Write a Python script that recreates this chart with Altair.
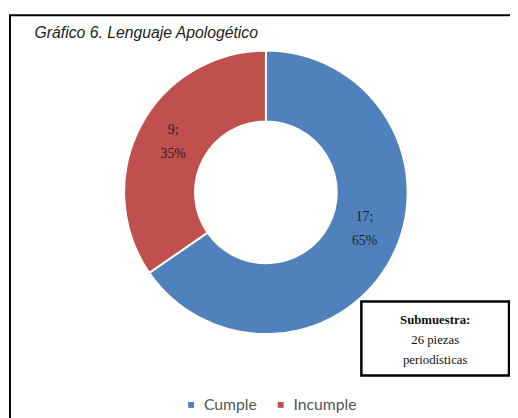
import altair as alt
import pandas as pd

categories = ["Cumple", "Incumple"]
counts = [17, 9]
percents = ["65%", "35%"]
colors = ["#4F81BD", "#C0504D"]
title_text = "Gráfico 6. Lenguaje Apologético"
box_lines = ["Submuestra:", "26 piezas", "periodísticas"]

df = pd.DataFrame({
    "cat": categories,
    "n": counts,
    "pct": percents,
})
df["label"] = [[f"{n};", p] for n, p in zip(counts, percents)]
tot = sum(counts)
cum = 0
starts = []
for c in counts:
    starts.append(cum)
    cum += c
df["start"] = starts
df["end"] = [s + c for s, c in zip(starts, counts)]

W, H = 510, 410
CX, CY = 262, 184
theta_scale = alt.Scale(domain=[0, tot], range=[0, 6.283185307])

color_scale = alt.Scale(domain=categories, range=colors)

frame = alt.Chart(pd.DataFrame({"a": [0]})).mark_rect(
    fill="white", stroke="black", strokeWidth=2
).encode(x=alt.value(2), x2=alt.value(530), y=alt.value(4), y2=alt.value(430))

arcs = alt.Chart(df).mark_arc(
    outerRadius=144, innerRadius=72, stroke="white", strokeWidth=2
).encode(
    theta=alt.Theta("start:Q", scale=theta_scale),
    theta2="end:Q",
    color=alt.Color("cat:N", scale=color_scale, sort=categories,
                    legend=alt.Legend(title=None, orient="none", direction="horizontal",
                                      legendX=178, legendY=392, symbolType="square",
                                      symbolSize=36, labelFont="Lato",
                                      labelFontSize=16, labelColor="#555",
                                      labelOffset=5, columnPadding=16,
                                      symbolStrokeWidth=0)),
    x=alt.value(CX), y=alt.value(CY),
)

def label_layer(cat, dx, dy):
    return alt.Chart(df).transform_filter(alt.datum.cat == cat).transform_calculate(
        mid="(datum.start + datum.end) / 2"
    ).mark_text(
        radius=112, font="Liberation Serif", fontSize=14, color="#222",
        lineHeight=24, dx=dx, dy=dy, align="center", baseline="middle"
    ).encode(
        theta=alt.Theta("mid:Q", scale=theta_scale),
        text="label",
        x=alt.value(CX), y=alt.value(CY),
    )

lab_blue = label_layer("Cumple", 1, -27)
lab_red = label_layer("Incumple", 5, -11)

title = alt.Chart(pd.DataFrame({"t": [title_text]})).mark_text(
    font="Liberation Sans", fontStyle="italic", fontSize=16, color="#222",
    align="left", baseline="middle"
).encode(x=alt.value(27), y=alt.value(22), text="t:N")

box = alt.Chart(pd.DataFrame({"a": [0]})).mark_rect(
    fill="white", stroke="black", strokeWidth=2.5
).encode(x=alt.value(359), x2=alt.value(509), y=alt.value(295), y2=alt.value(370))

box_df = pd.DataFrame({"t": box_lines, "i": [0, 1, 2]})
box_y = alt.Y("i:O", scale=alt.Scale(domain=[0, 1, 2], range=[314, 354], padding=0), axis=None)
box_bold = alt.Chart(box_df).transform_filter(alt.datum.i == 0).mark_text(
    font="Liberation Serif", fontSize=13, fontWeight="bold", color="#111",
    align="center", baseline="middle"
).encode(x=alt.value(434), y=box_y, text="t:N")
box_norm = alt.Chart(box_df).transform_filter(alt.datum.i > 0).mark_text(
    font="Liberation Serif", fontSize=13, color="#111",
    align="center", baseline="middle"
).encode(x=alt.value(434), y=box_y, text="t:N")

chart = alt.layer(frame, arcs, lab_blue, lab_red, title, box, box_bold, box_norm).properties(
    width=W, height=H, padding=0, autosize=alt.AutoSizeParams(type="none")
).configure_view(stroke=None)

chart.save("out.html", embed_options={"renderer": "svg", "actions": False})
